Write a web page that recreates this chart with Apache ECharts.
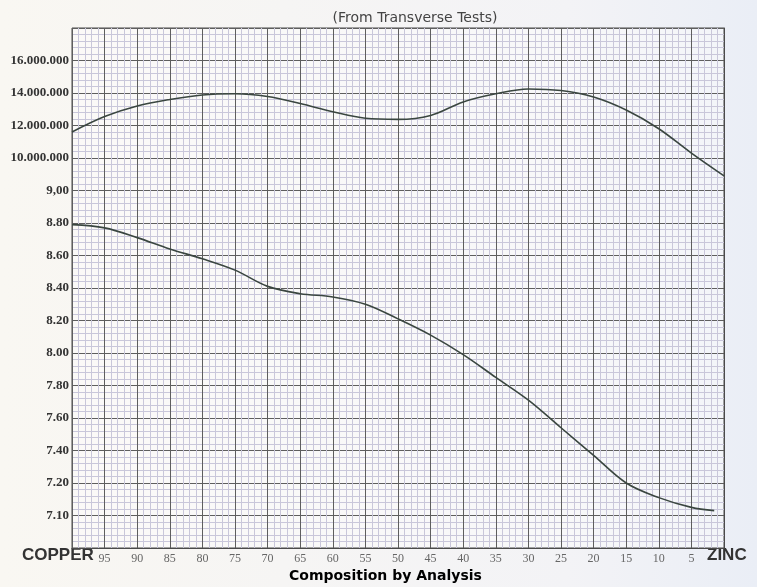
<!DOCTYPE html>
<html>
<head>
<meta charset="utf-8">
<script src="https://cdn.jsdelivr.net/npm/echarts@6/dist/echarts.min.js"></script>
<style>html,body{margin:0;padding:0;background:#f8f6f1;}#c{width:757px;height:587px;}</style>
</head>
<body>
<div id="c"></div>
<script>
// Percent of copper (x axis, 100 = pure copper at left, 0 = zinc at right)
const copperPct = [100, 95, 90, 85, 80, 75, 70, 65, 60, 55, 50, 45, 40, 35, 30, 25, 20, 15, 10, 5, 0];
// Transverse strength (lbs), upper curve
const strength = [11600000, 12550000, 13200000, 13600000, 13880000, 13950000, 13780000, 13350000, 12850000, 12450000, 12380000, 12620000, 13450000, 13950000, 14250000, 14150000, 13750000, 12950000, 11800000, 10300000, 8900000];
// Specific gravity, lower curve
const gravityPct = [100, 95, 90, 85, 80, 75, 70, 65, 60, 55, 50, 45, 40, 35, 30, 25, 20, 15, 10, 5, 1.5];
const gravity = [8.79, 8.77, 8.71, 8.64, 8.58, 8.51, 8.41, 8.365, 8.345, 8.30, 8.21, 8.11, 7.99, 7.85, 7.71, 7.54, 7.37, 7.20, 7.11, 7.05, 7.03];
// Printed y tick labels, one per major grid row from the bottom
const yTickLabels = ['', '7.10', '7.20', '7.40', '7.60', '7.80', '8.00', '8.20', '8.40', '8.60', '8.80', '9,00', '10.000.000', '12.000.000', '14.000.000', '16.000.000', ''];
const xTickLabels = {95:'95',90:'90',85:'85',80:'80',75:'75',70:'70',65:'65',60:'60',55:'55',50:'50',45:'45',40:'40',35:'35',30:'30',25:'25',20:'20',15:'15',10:'10',5:'5'};

const chart = echarts.init(document.getElementById('c'), null, {renderer: 'canvas'});
const majorLine = {show: true, lineStyle: {color: '#5e5e5e', width: 1}};
const minorLine = {show: true, lineStyle: {color: '#c9c7da', width: 1}};
const option = {
  backgroundColor: {type: 'linear', x: 0, y: 0, x2: 1, y2: 0, colorStops: [{offset: 0, color: '#f9f7f2'}, {offset: 0.75, color: '#f3f3f6'}, {offset: 1, color: '#eaeef6'}]},
  animation: false,
  title: {
    text: '(From Transverse Tests)', left: 410, top: 6, textAlign: 'center',
    textStyle: {fontFamily: 'DejaVu Sans', fontSize: 14, fontWeight: 'normal', color: '#444'}
  },
  grid: {left: 72, right: 33, top: 28, bottom: 39, show: true, borderColor: '#4a4a4a', borderWidth: 1, backgroundColor: 'rgba(255,255,255,0.4)'},
  xAxis: {
    type: 'value', min: 0, max: 100, interval: 5, inverse: true,
    axisLine: {show: true, lineStyle: {color: '#4a4a4a'}},
    axisTick: {show: false},
    axisLabel: {margin: 5, color: '#666', fontFamily: 'Liberation Serif', fontSize: 12,
      formatter: v => xTickLabels[v] || ''},
    splitLine: majorLine,
    minorTick: {show: false, splitNumber: 5},
    minorSplitLine: minorLine
  },
  yAxis: [
    {
      type: 'value', min: 0, max: 16, interval: 1,
      axisLine: {show: true, lineStyle: {color: '#4a4a4a'}},
      axisTick: {show: false},
      axisLabel: {margin: 3, color: '#333', fontFamily: 'Liberation Serif', fontWeight: 'bold', fontSize: 13,
        formatter: v => yTickLabels[Math.round(v)] || ''},
      splitLine: majorLine,
      minorTick: {show: false, splitNumber: 5},
      minorSplitLine: minorLine
    },
    {type: 'value', show: false, min: -14000000, max: 18000000, splitLine: {show: false}},
    {type: 'value', show: false, min: 6.8, max: 10.0, splitLine: {show: false}}
  ],
  graphic: [
    {type: 'text', left: 22, top: 547, style: {text: 'COPPER', font: 'bold 17px "Liberation Sans"', fill: '#333', letterSpacing: 2.5}},
    {type: 'text', left: 707, top: 547, style: {text: 'ZINC', font: 'bold 17px "Liberation Sans"', fill: '#333', letterSpacing: 2.5}},
    {type: 'text', left: 289, top: 569, style: {text: 'Composition by Analysis', font: 'bold 14px "DejaVu Sans"', fill: '#000'}}
  ],
  series: [
    {
      type: 'line', yAxisIndex: 1, smooth: 0.35, symbol: 'none',
      data: copperPct.map((p, i) => [p, strength[i]]),
      lineStyle: {color: '#3a4640', width: 1.6}
    },
    {
      type: 'line', yAxisIndex: 2, smooth: 0.35, symbol: 'none',
      data: gravityPct.map((p, i) => [p, gravity[i]]),
      lineStyle: {color: '#3a4640', width: 1.6}
    }
  ]
};
chart.setOption(option);
</script>
</body>
</html>
